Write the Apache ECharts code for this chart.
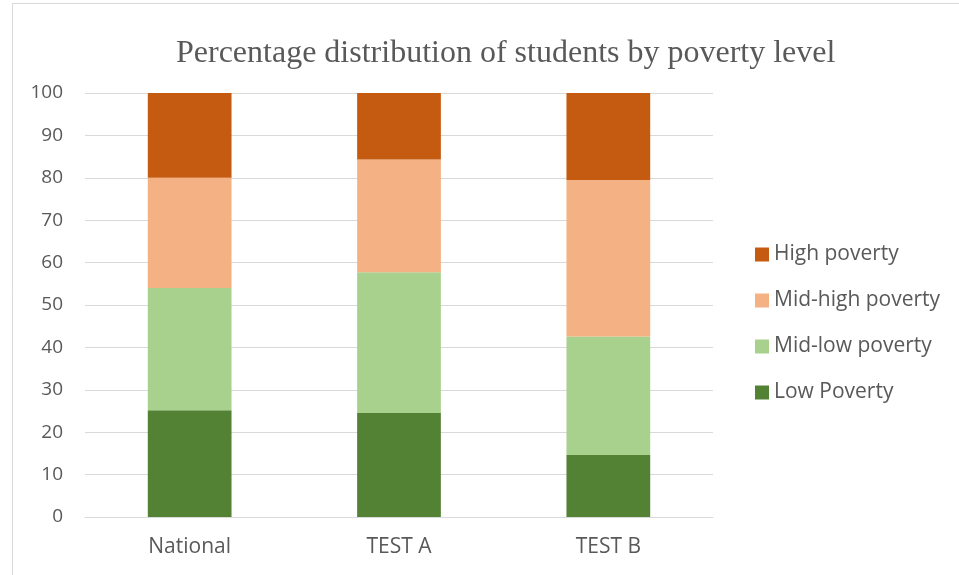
<!DOCTYPE html>
<html>
<head>
<meta charset="utf-8">
<script src="https://cdn.jsdelivr.net/npm/echarts@6/dist/echarts.min.js"></script>
<style>
  html, body { margin: 0; padding: 0; background: #fff; }
  #chart { width: 959px; height: 575px; }
</style>
</head>
<body>
<div id="chart"></div>
<script>
var categories = ['National', 'TEST A', 'TEST B'];
var lowPoverty = [25.2, 24.5, 14.6];
var midLowPoverty = [28.8, 33.2, 28.0];
var midHighPoverty = [26.0, 26.6, 36.9];
var highPoverty = [20.0, 15.7, 20.5];
var yTicks = [0, 10, 20, 30, 40, 50, 60, 70, 80, 90, 100];

var chart = echarts.init(document.getElementById('chart'));

var txt = '#595959';

function bar(name, data, color) {
    return {
        name: name,
        type: 'bar',
        stack: 'total',
        barWidth: '40%',
        data: data,
        itemStyle: { color: color },
        emphasis: { disabled: true }
    };
}

option = {
    animation: false,
    title: {
        text: 'Percentage distribution of students by poverty level',
        left: 171,
        top: 33,
        textStyle: { fontFamily: 'Liberation Serif', fontSize: 32, fontWeight: 'normal', color: txt }
    },
    graphic: [{
        type: 'rect',
        shape: { x: 12.5, y: 3.5, width: 960, height: 580 },
        style: { fill: 'none', stroke: '#d9d9d9', lineWidth: 1 },
        silent: true
    }],
    legend: {
        orient: 'vertical',
        left: 750,
        top: 239,
        itemWidth: 14,
        itemHeight: 14,
        itemGap: 25,
        icon: 'rect',
        data: ['High poverty', 'Mid-high poverty', 'Mid-low poverty', 'Low Poverty'],
        textStyle: { fontFamily: 'Open Sans', fontSize: 21, color: txt, lineHeight: 20 }
    },
    grid: { left: 85, right: 246, top: 93, bottom: 58 },
    xAxis: {
        type: 'category',
        data: categories,
        axisTick: { show: false },
        axisLine: { lineStyle: { color: '#d9d9d9' } },
        axisLabel: { margin: 20, fontFamily: 'Open Sans', fontSize: 21, color: txt }
    },
    yAxis: {
        type: 'value',
        min: yTicks[0],
        max: yTicks[yTicks.length - 1],
        interval: 10,
        axisLabel: { margin: 22, fontFamily: 'Open Sans', fontSize: 19, color: txt },
        splitLine: { lineStyle: { color: '#d9d9d9' } }
    },
    series: [
        bar('Low Poverty', lowPoverty, '#548235'),
        bar('Mid-low poverty', midLowPoverty, '#a9d18e'),
        bar('Mid-high poverty', midHighPoverty, '#f4b183'),
        bar('High poverty', highPoverty, '#c55a11')
    ]
};
chart.setOption(option);
</script>
</body>
</html>
